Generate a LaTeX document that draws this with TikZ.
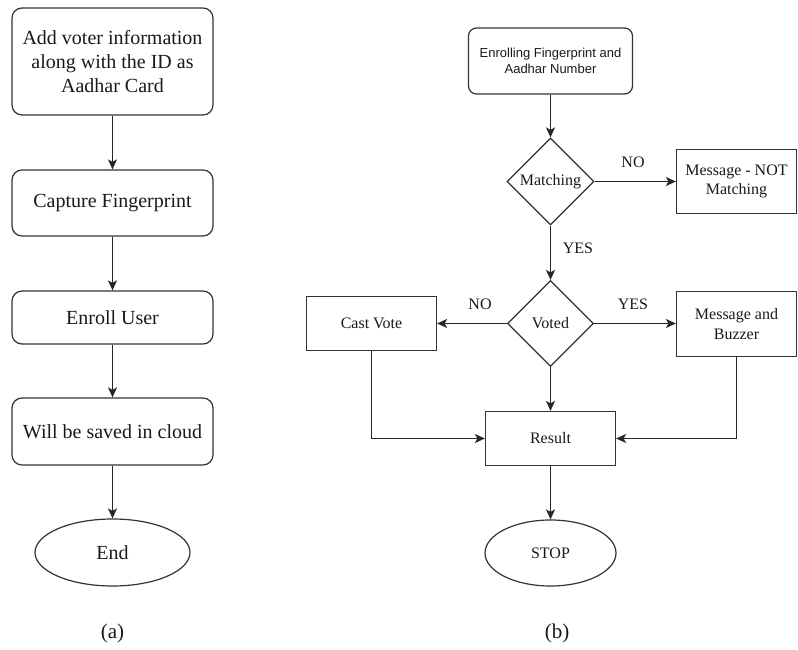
\documentclass[tikz,border=0pt]{standalone}
\usepackage{fontspec}
\setmainfont{Liberation Serif}
\newfontfamily\arialf{Liberation Sans}
\usetikzlibrary{shapes.geometric,arrows.meta}
\begin{document}
\begin{tikzpicture}[x=1pt,y=-1pt,
  line width=1.2pt,
  every node/.style={text=black!90},
  bigbox/.style={draw=black!80, rounded corners=10pt, minimum width=201pt, align=center, inner sep=0pt, font=\fontsize{20}{24}\selectfont},
  sbox/.style={draw=black!80, align=center, inner sep=0pt, font=\fontsize{16}{19.5}\selectfont},
  dia/.style={draw=black!80, diamond, inner sep=0pt, aspect=1, font=\fontsize{16}{19}\selectfont},
  ell/.style={draw=black!80, ellipse, inner sep=0pt},
  lab/.style={font=\fontsize{16}{19}\selectfont, inner sep=0pt},
  arr/.style={draw=black!85, -{Stealth[length=10pt,width=9pt,inset=2.5pt]}}
]
\useasboundingbox (0,0) rectangle (798,650);
% (a)
\node[bigbox, minimum height=107pt] (a1) at (112.5,61.5) {Add voter information\\along with the ID as\\Aadhar Card};
\node[bigbox, minimum height=66pt] (a2) at (112.5,203) {Capture Fingerprint};
\node[bigbox, minimum height=53pt] (a3) at (112.5,317.5) {Enroll User};
\node[bigbox, minimum height=67pt] (a4) at (112.5,431.5) {Will be saved in cloud};
\node[ell, minimum width=155pt, minimum height=67pt, font=\fontsize{20}{24}\selectfont] (a5) at (112.5,552.5) {End};
\draw[arr] (a1) -- (a2);
\draw[arr] (a2) -- (a3);
\draw[arr] (a3) -- (a4);
\draw[arr] (a4) -- (a5);
\node[font=\fontsize{21}{24}\selectfont, inner sep=0pt] (capa) at (112.5,633) {(a)};
% (b)
\node[draw=black!80, rounded corners=8pt, minimum width=164pt, minimum height=66pt, align=center, inner sep=0pt, font=\arialf\fontsize{13}{16}\selectfont] (en) at (550.5,61) {Enrolling Fingerprint and\\Aadhar Number};
\node[dia, minimum width=87pt, minimum height=87pt] (mt) at (550.5,181.5) {Matching};
\node[sbox, minimum width=120pt, minimum height=64pt] (nm) at (736.5,181.5) {Message - NOT\\Matching};
\node[dia, minimum width=86pt, minimum height=86pt] (vt) at (550.5,323.5) {Voted};
\node[sbox, minimum width=130pt, minimum height=54pt] (cv) at (371.5,323.5) {Cast Vote};
\node[sbox, minimum width=120pt, minimum height=65pt] (mb) at (736.5,324) {Message and\\Buzzer};
\node[sbox, minimum width=130pt, minimum height=54pt] (rs) at (550.5,438.5) {Result};
\node[ell, minimum width=131pt, minimum height=66pt, font=\fontsize{16}{19}\selectfont] (st) at (550.5,553) {STOP};
\draw[arr] (en) -- (mt);
\draw[arr] (mt.east) -- (nm.west);
\draw[arr] (mt.south) -- (vt.north);
\draw[arr] (vt.west) -- (cv.east);
\draw[arr] (vt.east) -- (mb.west |- vt.east);
\draw[arr] (vt.south) -- (rs.north);
\draw[arr] (cv.south) |- (rs.west);
\draw[arr] (mb.south) |- (rs.east);
\draw[arr] (rs) -- (st);
\node[lab] (l1) at (633,162) {NO};
\node[lab] (l2) at (578,248) {YES};
\node[lab] (l3) at (480,304) {NO};
\node[lab] (l4) at (633,304) {YES};
\node[font=\fontsize{21}{24}\selectfont, inner sep=0pt] (capb) at (557,633) {(b)};
\end{tikzpicture}
\end{document}
